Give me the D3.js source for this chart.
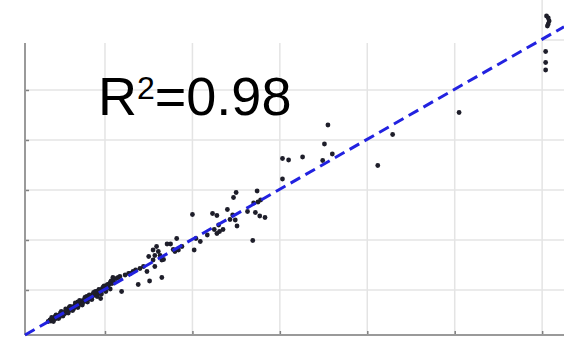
<!DOCTYPE html>
<html>
<head>
<meta charset="utf-8">
<script src="https://cdn.jsdelivr.net/npm/d3@7/dist/d3.min.js"></script>
<style>
  html, body { margin: 0; padding: 0; background: #fff; }
  svg { display: block; }
</style>
</head>
<body>
<svg id="chart" width="564" height="337"></svg>
<script>
// Observed vs. predicted values (scatter), with the least-squares fit line.
const pointsX = [
  // dense low-range band
  0.35,0.37,0.38,0.40,0.41,0.42,0.44,0.45,0.46,0.47,0.48,0.50,0.51,0.52,0.53,0.55,0.56,0.57,0.58,0.60,
  0.61,0.62,0.63,0.65,0.66,0.67,0.68,0.70,0.71,0.72,0.73,0.75,0.76,0.77,0.78,0.80,0.81,0.82,0.83,0.85,
  0.86,0.87,0.88,0.90,0.91,0.92,0.93,0.95,0.96,0.97,0.98,1.00,1.01,1.02,1.03,1.05,1.06,1.07,0.99,0.89,
  0.79,0.69,0.59,0.49,0.43,0.54,0.64,0.74,0.84,0.94,1.04,1.08,1.10,
  0.39,0.44,0.50,0.55,0.60,0.66,0.71,0.77,0.82,0.87,0.93,0.98,1.03,
  0.41,0.47,0.52,0.58,0.63,0.69,0.74,0.80,0.85,0.91,0.96,1.01,1.06,
  // mid range
  0.95,1.19,1.09,1.15,1.17,1.13,1.09,1.27,1.32,1.23,1.38,1.29,1.35,1.40,1.44,1.48,1.51,1.65,
  1.59,1.55,1.61,1.57,1.63,1.65,1.50,1.55,1.57,1.67,1.88,1.82,1.75,1.71,1.78,1.84,1.80,
  2.02,2.04,2.09,2.17,2.28,2.31,2.35,2.30,2.25,2.00,2.23,2.28,2.40,2.46,2.43,2.49,2.51,2.63,
  2.70,2.75,2.78,2.72,2.77,2.83,2.69,2.50,2.47,2.74,
  // upper range
  3.03,3.03,3.10,3.26,3.49,3.51,3.55,3.60,4.12,4.29,5.05,
  6.04,6.04,6.04,6.05,6.07,6.08,6.07,6.06
];
const pointsY = [
  0.37,0.40,0.38,0.42,0.40,0.44,0.43,0.47,0.45,0.49,0.46,0.52,0.50,0.55,0.52,0.57,0.55,0.60,0.58,0.62,
  0.60,0.66,0.63,0.68,0.66,0.71,0.68,0.73,0.71,0.76,0.74,0.79,0.77,0.81,0.79,0.84,0.82,0.87,0.85,0.90,
  0.88,0.93,0.91,0.95,0.93,0.98,0.96,1.00,0.98,1.03,1.01,1.06,1.04,1.09,1.07,1.12,1.15,1.18,1.08,0.97,
  0.87,0.76,0.65,0.54,0.47,0.53,0.62,0.72,0.82,0.93,1.10,1.13,1.16,
  0.45,0.50,0.57,0.62,0.67,0.74,0.79,0.85,0.90,0.95,1.01,1.06,1.11,
  0.37,0.43,0.48,0.54,0.59,0.65,0.70,0.76,0.81,0.87,0.92,0.97,1.02,
  0.83,0.97,1.20,1.25,1.27,1.23,1.25,1.33,1.37,1.30,1.11,1.33,1.40,1.43,1.47,1.37,1.18,1.25,
  1.87,1.80,1.77,1.69,1.69,1.60,1.67,1.60,1.47,1.61,1.87,2.03,1.92,1.92,1.81,1.80,1.77,
  1.80,2.03,1.97,2.10,2.13,2.17,2.21,2.30,2.21,2.51,2.53,2.49,2.61,2.50,2.41,2.40,2.28,2.57,
  2.74,2.76,2.80,2.55,2.48,2.45,1.99,2.95,2.85,2.98,
  3.63,3.22,3.60,3.66,3.59,3.92,4.30,3.72,3.49,4.11,4.55,
  5.77,5.55,5.40,6.48,6.44,6.38,6.32,6.28
];
const gridValues = [1, 2, 3, 4, 5, 6];
const fitSlope = 1.0;
const fitIntercept = 0.015;
const r2Label = "0.98";

const svg = d3.select("#chart");
const W = 564, H = 337;
const left = 25, bottom = 335, frameTop = 43;

const x = d3.scaleLinear().domain([0.085, 6.25]).range([left, W]);
const y = d3.scaleLinear().domain([0.1, 6.7]).range([bottom, 5]);

const gridColor = "#e4e4e4";
const axisColor = "#9a9a9a";

// vertical grid lines (the last one runs up to the top edge)
const last = gridValues[gridValues.length - 1];
svg.append("g").selectAll("line").data(gridValues).join("line")
  .attr("x1", d => x(d)).attr("x2", d => x(d))
  .attr("y1", bottom).attr("y2", d => d === last ? 0 : frameTop)
  .attr("stroke", gridColor).attr("stroke-width", 1.5);

// horizontal grid lines (top one only right of the last vertical)
svg.append("g").selectAll("line").data(gridValues).join("line")
  .attr("x1", d => d === last ? x(last) : left).attr("x2", W)
  .attr("y1", d => y(d)).attr("y2", d => y(d))
  .attr("stroke", gridColor).attr("stroke-width", 1.5);

// axes with inward ticks
const xAxis = d3.axisBottom(x).tickValues(gridValues).tickSize(-4).tickFormat("");
const yAxis = d3.axisLeft(y).tickValues(gridValues.filter(d => y(d) > frameTop)).tickSize(-4).tickFormat("");

const gx = svg.append("g").attr("transform", `translate(0,${bottom})`).call(xAxis);
gx.select(".domain").remove();
gx.selectAll("line").attr("stroke", "#808080").attr("stroke-width", 1.5);
const gy = svg.append("g").attr("transform", `translate(${left},0)`).call(yAxis);
gy.select(".domain").remove();
gy.selectAll("line").attr("stroke", "#808080").attr("stroke-width", 1.5);

svg.append("line").attr("x1", left).attr("x2", left).attr("y1", frameTop).attr("y2", bottom)
  .attr("stroke", axisColor).attr("stroke-width", 2);
svg.append("line").attr("x1", left).attr("x2", W).attr("y1", bottom).attr("y2", bottom)
  .attr("stroke", axisColor).attr("stroke-width", 2);

// scatter points
const pts = pointsX.map((v, i) => [v, pointsY[i]]);
svg.append("g").selectAll("circle").data(pts).join("circle")
  .attr("cx", d => x(d[0])).attr("cy", d => y(d[1])).attr("r", 2.4)
  .attr("fill", "#1e1e2a");

// fit line
const fx = x.domain();
svg.append("path")
  .datum(fx.map(v => [v, fitIntercept + fitSlope * v]))
  .attr("d", d3.line().x(d => x(d[0])).y(d => y(d[1])))
  .attr("fill", "none").attr("stroke", "#2222e0").attr("stroke-width", 3)
  .attr("stroke-dasharray", "11,6");

// R² annotation
const t = svg.append("text").attr("x", 98).attr("y", 115)
  .attr("font-family", "'Liberation Sans', Arial, sans-serif").attr("font-size", 54).attr("fill", "#000");
t.append("tspan").text("R");
t.append("tspan").attr("font-size", 32).attr("dy", -16).text("2");
t.append("tspan").attr("dy", 16).text("=" + r2Label);
</script>
</body>
</html>
